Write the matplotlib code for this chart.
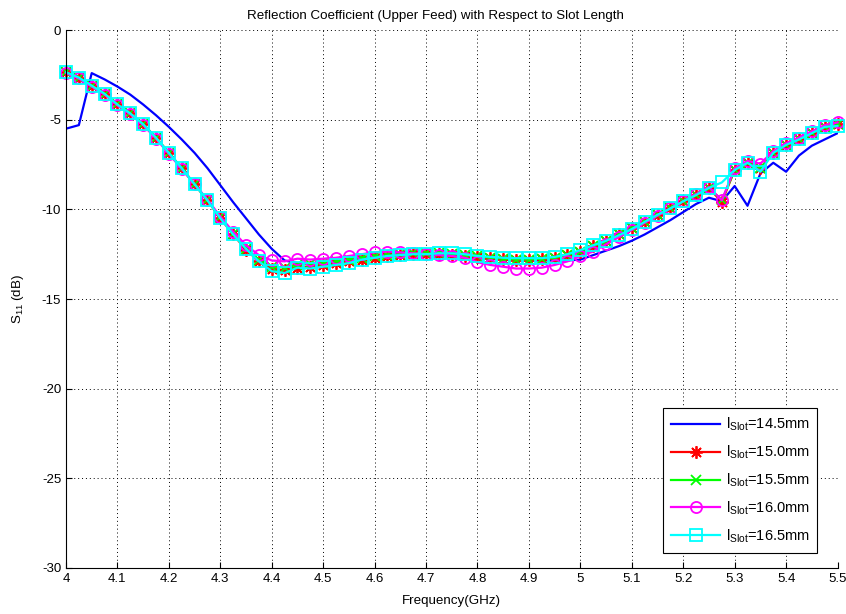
import numpy as np
import matplotlib
matplotlib.use("Agg")
import matplotlib.pyplot as plt
from matplotlib.ticker import FormatStrFormatter

plt.rcParams['font.family'] = ['Liberation Sans', 'DejaVu Sans']
plt.rcParams['mathtext.default'] = 'regular'
plt.rcParams['axes.unicode_minus'] = False

# frequency grid of the sweep (GHz)
freq = np.round(np.arange(4.0, 5.5001, 0.025), 3)

s11_145 = [-5.5, -5.3, -2.4, -2.75, -3.15, -3.6, -4.15, -4.75, -5.4, -6.1,
           -6.85, -7.7, -8.65, -9.6, -10.5, -11.4, -12.2, -12.85, -13.0, -13.0,
           -12.95, -12.9, -12.8, -12.7, -12.6, -12.55, -12.5, -12.5, -12.5, -12.55,
           -12.6, -12.65, -12.7, -12.75, -12.8, -12.85, -12.85, -12.85, -12.85, -12.85,
           -12.8, -12.55, -12.3, -12.05, -11.75, -11.4, -11.0, -10.6, -10.15, -9.7,
           -9.35, -9.55, -8.7, -9.8, -8.0, -7.4, -7.9, -7.0, -6.45, -6.1,
           -5.75]

s11_150 = [-2.35, -2.65, -3.1, -3.55, -4.15, -4.65, -5.25, -6.0, -6.85, -7.7,
           -8.6, -9.5, -10.5, -11.4, -12.25, -12.9, -13.35, -13.4, -13.25, -13.2,
           -13.1, -13.0, -12.9, -12.8, -12.7, -12.6, -12.55, -12.5, -12.5, -12.5,
           -12.55, -12.6, -12.65, -12.7, -12.75, -12.8, -12.8, -12.75, -12.7, -12.55,
           -12.35, -12.05, -11.75, -11.4, -11.05, -10.7, -10.3, -9.95, -9.55, -9.2,
           -8.8, -9.6, -7.8, -7.4, -7.7, -6.85, -6.4, -6.1, -5.75, -5.4,
           -5.25]

s11_155 = [-2.35, -2.65, -3.1, -3.55, -4.15, -4.65, -5.25, -6.0, -6.85, -7.7,
           -8.6, -9.5, -10.45, -11.35, -12.2, -12.8, -13.2, -13.25, -13.1, -13.05,
           -13.0, -12.9, -12.8, -12.7, -12.6, -12.55, -12.5, -12.45, -12.45, -12.45,
           -12.5, -12.55, -12.6, -12.7, -12.75, -12.8, -12.8, -12.75, -12.7, -12.55,
           -12.35, -12.05, -11.75, -11.4, -11.05, -10.7, -10.3, -9.95, -9.55, -9.2,
           -8.8, -9.5, -7.8, -7.4, -7.7, -6.85, -6.4, -6.1, -5.75, -5.4,
           -5.25]

s11_160 = [-2.4, -2.7, -3.15, -3.6, -4.2, -4.7, -5.3, -6.05, -6.9, -7.75,
           -8.6, -9.45, -10.4, -11.25, -12.0, -12.55, -12.85, -12.9, -12.75, -12.8,
           -12.75, -12.7, -12.6, -12.5, -12.4, -12.35, -12.4, -12.45, -12.5, -12.55,
           -12.6, -12.7, -12.95, -13.1, -13.2, -13.3, -13.3, -13.25, -13.1, -12.9,
           -12.6, -12.35, -11.95, -11.55, -11.15, -10.75, -10.35, -9.95, -9.55, -9.15,
           -8.75, -9.5, -7.7, -7.3, -7.45, -6.75, -6.3, -6.0, -5.65, -5.3,
           -5.15]

s11_165 = [-2.35, -2.65, -3.1, -3.55, -4.15, -4.65, -5.25, -6.0, -6.85, -7.7,
           -8.6, -9.5, -10.5, -11.4, -12.2, -12.9, -13.45, -13.55, -13.25, -13.3,
           -13.2, -13.1, -13.0, -12.8, -12.7, -12.6, -12.55, -12.5, -12.5, -12.45,
           -12.45, -12.5, -12.6, -12.65, -12.7, -12.72, -12.72, -12.72, -12.65, -12.5,
           -12.27, -12.0, -11.75, -11.45, -11.1, -10.7, -10.3, -9.95, -9.55, -9.2,
           -8.8, -8.5, -7.8, -7.4, -7.9, -6.85, -6.4, -6.1, -5.75, -5.4,
           -5.35]

labels = [r'l$_{Slot}$=14.5mm', r'l$_{Slot}$=15.0mm', r'l$_{Slot}$=15.5mm',
          r'l$_{Slot}$=16.0mm', r'l$_{Slot}$=16.5mm']

fig = plt.figure(figsize=(8.46, 6.14), dpi=100)
ax = fig.add_axes([0.078, 0.075, 0.912, 0.876])

ax.plot(freq, s11_145, color='#0000ff', lw=1.6, label=labels[0])
ax.plot(freq, s11_150, color='#ff0000', lw=1.6, marker=(8, 2, 0), ms=9,
        mew=1.3, label=labels[1], clip_on=False)
ax.plot(freq, s11_155, color='#00ff00', lw=1.6, marker='x', ms=7,
        mew=1.3, label=labels[2], clip_on=False)
ax.plot(freq, s11_160, color='#ff00ff', lw=1.6, marker='o', ms=8,
        mfc='none', mew=1.3, label=labels[3], clip_on=False)
ax.plot(freq, s11_165, color='#00ffff', lw=1.6, marker='s', ms=8,
        mfc='none', mew=1.3, label=labels[4], clip_on=False)

ax.set_xlim(4, 5.5)
ax.set_ylim(-30, 0)
ax.set_xticks(np.arange(4.0, 5.51, 0.1))
ax.set_yticks(np.arange(-30, 1, 5))
ax.xaxis.set_major_formatter(FormatStrFormatter('%g'))
ax.tick_params(direction='in', length=4, labelsize=9.5, width=0.8)
ax.grid(True, color='black', linestyle=(0, (1, 3)), linewidth=0.7)

ax.spines['top'].set_visible(False)
ax.spines['right'].set_visible(False)

ax.set_title('Reflection Coefficient (Upper Feed) with Respect to Slot Length',
             fontsize=9.6, pad=8, x=0.479)
ax.set_xlabel('Frequency(GHz)', fontsize=9.6, labelpad=7)
ax.set_ylabel(r'S$_{11}$ (dB)', fontsize=9.6, labelpad=11)

leg = ax.legend(loc='lower right', bbox_to_anchor=(0.974, 0.028),
                fontsize=10.5, handlelength=3.4, handletextpad=0.35,
                fancybox=False, edgecolor='black', framealpha=1,
                borderaxespad=0, borderpad=0.55, labelspacing=0.72)
leg.get_frame().set_linewidth(0.8)

fig.savefig('out.png', dpi=100)
